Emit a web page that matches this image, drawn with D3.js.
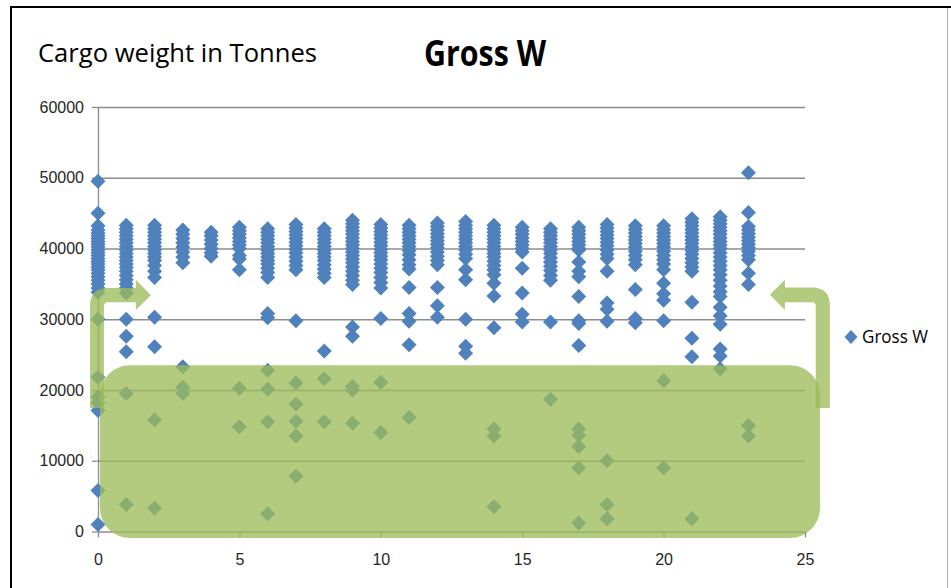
<!DOCTYPE html>
<html>
<head>
<meta charset="utf-8">
<script src="https://cdn.jsdelivr.net/npm/d3@7"></script>
<style>
  html, body { margin: 0; padding: 0; background: #fff; }
  svg { display: block; }
</style>
</head>
<body>
<svg id="chart" width="951" height="588"></svg>
<script>
// x = hour (0..23), one list of Gross W readings per hour
const hours = d3.range(0, 24);
const grossW = [
  [49500, 45000, 43200, 42600, 42200, 41800, 41400, 41000, 40600, 40200, 39800, 39400, 39000, 38600, 38200, 37800, 37400, 37000, 36500, 36000, 35500, 35000, 34400, 33800, 30000, 21800, 19000, 18200, 17100, 5800, 1000],
  [43300, 42800, 42300, 41800, 41300, 40800, 40300, 39800, 39300, 38800, 38300, 37800, 37300, 36800, 36200, 35600, 35000, 34400, 33700, 30000, 27600, 25400, 19500, 3800],
  [43300, 42800, 42300, 41800, 41300, 40800, 40300, 39800, 39300, 38800, 38300, 37600, 36800, 35900, 30300, 26100, 15800, 3300],
  [42600, 42000, 41400, 40800, 40200, 39500, 38800, 38000, 23300, 20400, 19500],
  [42300, 41800, 41200, 40600, 40000, 39400, 38900],
  [43000, 42500, 42000, 41500, 41000, 40500, 40000, 39000, 38500, 37000, 20200, 14800],
  [42800, 42300, 41800, 41300, 40800, 40300, 39800, 39300, 38800, 38300, 37800, 37200, 36600, 35900, 30800, 30200, 22800, 20100, 15500, 2500],
  [43400, 42900, 42400, 41900, 41400, 40900, 40400, 39900, 39400, 38800, 38200, 37600, 37000, 29800, 21000, 18000, 15600, 13500, 7800],
  [42800, 42300, 41800, 41300, 40800, 40300, 39800, 39300, 38800, 38300, 37700, 37100, 36500, 35900, 25500, 21600, 15500],
  [44000, 43500, 43000, 42500, 42000, 41500, 41000, 40500, 40000, 39500, 39000, 38500, 38000, 37400, 36800, 36200, 35500, 34900, 28900, 27600, 20500, 20000, 15300],
  [43400, 42900, 42400, 41900, 41400, 40900, 40400, 39900, 39400, 38900, 38400, 37800, 37200, 36600, 35900, 35200, 34400, 30100, 21100, 14000],
  [43300, 42800, 42300, 41800, 41300, 40800, 40300, 39700, 39100, 38400, 37700, 37100, 34500, 30800, 29700, 26400, 16100],
  [43600, 43100, 42600, 42100, 41600, 41100, 40600, 40100, 39500, 38900, 38300, 37700, 34500, 31900, 30300],
  [43800, 43300, 42800, 42300, 41800, 41300, 40800, 40300, 39800, 39200, 38600, 37000, 35600, 30000, 26200, 25200],
  [43300, 42800, 42300, 41800, 41300, 40800, 40300, 39800, 39300, 38800, 38200, 37600, 37000, 36300, 35100, 33300, 28800, 14500, 13500, 3500],
  [43000, 42500, 42000, 41500, 41000, 40500, 40000, 39500, 37200, 33700, 30700, 29600],
  [42800, 42300, 41800, 41300, 40800, 40300, 39800, 39300, 38700, 38100, 37500, 36900, 36200, 35500, 29600, 18700],
  [43000, 42500, 42000, 41500, 41000, 40500, 40000, 39800, 38100, 36800, 36000, 33200, 29800, 29400, 26300, 14500, 13600, 12000, 9000, 1200],
  [43400, 42900, 42400, 41900, 41400, 40900, 40400, 39800, 39200, 38600, 36800, 32300, 31400, 29700, 10000, 3800, 1800],
  [43200, 42700, 42200, 41700, 41200, 40700, 40200, 39600, 39000, 38400, 37700, 34200, 30100, 29500],
  [43200, 42700, 42200, 41700, 41200, 40700, 40200, 39600, 39000, 38400, 37800, 37000, 35100, 33600, 32700, 29800, 21300, 9000],
  [44200, 43700, 43200, 42700, 42200, 41700, 41200, 40700, 40200, 39700, 39200, 38600, 38000, 37400, 36800, 32400, 27300, 24700, 1800],
  [44500, 44000, 43500, 43000, 42500, 42000, 41500, 41000, 40500, 40000, 39400, 38800, 38200, 37600, 37000, 36300, 35500, 34700, 33900, 33200, 31700, 30500, 29300, 25800, 24800, 23000],
  [50700, 45100, 43100, 42600, 42100, 41600, 41100, 40600, 40100, 39600, 39000, 38400, 36500, 34900, 15000, 13500]
];
const xTicks = [0, 5, 10, 15, 20, 25];
const yTicks = [0, 10000, 20000, 30000, 40000, 50000, 60000];
const seriesName = "Gross W";
const chartTitle = "Gross W";
const sideNote = "Cargo weight in Tonnes";

const points = hours.flatMap((h, i) => grossW[i].map(v => ({ h, v })));

const svg = d3.select("#chart");
const m = { left: 98, right: 146, top: 107, bottom: 56.5 };
const W = 951, H = 588;

const x = d3.scaleLinear().domain([0, 25]).range([m.left, W - m.right]);
const y = d3.scaleLinear().domain([0, 60000]).range([H - m.bottom, m.top]);

const GRID = "#8c8c8c";
const BLUE = "#4f81bd";
const GREEN = "#9bbb59";
const TICK_FONT = "Liberation Sans, Arial, sans-serif";

// frame
svg.append("line").attr("x1", 11).attr("x2", 11).attr("y1", 7).attr("y2", H)
  .attr("stroke", "#000").attr("stroke-width", 2);
svg.append("line").attr("x1", 10).attr("x2", W).attr("y1", 7).attr("y2", 7)
  .attr("stroke", "#000").attr("stroke-width", 2);
svg.append("line").attr("x1", 947.5).attr("x2", 947.5).attr("y1", 8).attr("y2", H)
  .attr("stroke", "#b0b0b0").attr("stroke-width", 1);

// titles
svg.append("text").attr("x", 38).attr("y", 62)
  .attr("font-family", "Open Sans, Noto Sans, sans-serif").attr("font-size", 25)
  .attr("textLength", 279).attr("lengthAdjust", "spacingAndGlyphs")
  .attr("fill", "#000").text(sideNote);
svg.append("text").attr("x", 424).attr("y", 66)
  .attr("font-family", "Open Sans, Noto Sans, sans-serif").attr("font-size", 36)
  .attr("font-weight", "bold")
  .attr("textLength", 122).attr("lengthAdjust", "spacingAndGlyphs")
  .attr("fill", "#000").text(chartTitle);

// gridlines
svg.append("g")
  .attr("transform", `translate(${m.left},0)`)
  .call(d3.axisLeft(y).tickValues(yTicks.filter(t => t > 0)).tickSize(-(x(25) - x(0))).tickFormat(""))
  .call(g => g.select(".domain").remove())
  .call(g => g.selectAll("line").attr("stroke", GRID).attr("stroke-width", 1.3));

// y axis
svg.append("g")
  .attr("transform", `translate(${m.left},0)`)
  .call(d3.axisLeft(y).tickValues(yTicks).tickFormat(d3.format("d"))
    .tickSize(6).tickPadding(8).tickSizeOuter(0))
  .call(g => g.select(".domain").attr("stroke", GRID).attr("stroke-width", 1.3))
  .call(g => g.selectAll("line").attr("stroke", GRID).attr("stroke-width", 1.3))
  .call(g => g.selectAll("text").attr("fill", "#262626").attr("font-size", 16)
    .attr("font-family", TICK_FONT));

// x axis
svg.append("g")
  .attr("transform", `translate(0,${y(0)})`)
  .call(d3.axisBottom(x).tickValues(xTicks).tickFormat(d3.format("d"))
    .tickSize(6).tickPadding(16).tickSizeOuter(0))
  .call(g => g.select(".domain").attr("stroke", GRID).attr("stroke-width", 1.3))
  .call(g => g.selectAll("line").attr("stroke", GRID).attr("stroke-width", 1.3))
  .call(g => g.selectAll("text").attr("fill", "#262626").attr("font-size", 16)
    .attr("font-family", TICK_FONT));

// points
const diamond = "M0,-7.5L7.5,0L0,7.5L-7.5,0Z";
svg.append("g").selectAll("path")
  .data(points).join("path")
  .attr("d", diamond)
  .attr("transform", d => `translate(${x(d.h)},${y(d.v)})`)
  .attr("fill", BLUE);

// legend
const lg = svg.append("g").attr("transform", "translate(851,337)");
lg.append("path").attr("d", "M0,-7L6.5,0L0,7L-6.5,0Z").attr("fill", BLUE);
lg.append("text").attr("x", 11).attr("y", 6)
  .attr("font-family", "Open Sans, Noto Sans, sans-serif").attr("font-size", 18)
  .attr("textLength", 66).attr("lengthAdjust", "spacingAndGlyphs")
  .attr("fill", "#000").text(seriesName);

// green highlight box and arrows (semi-transparent overlay)
const ov = svg.append("g").attr("fill", GREEN).attr("fill-opacity", 0.77);
const bx0 = x(0.07), bx1 = x(25.53), by0 = y(23500), by1 = y(-920);
ov.append("rect")
  .attr("x", bx0).attr("y", by0)
  .attr("width", bx1 - bx0).attr("height", by1 - by0)
  .attr("rx", 30).attr("ry", 30);

function bentArrow(stemX0, stemX1, bottom, top, shaftBottom, headBase, tip, headTop, headBottom, dir) {
  // dir = 1 points right, -1 points left
  const r = 18, ri = 4;
  const outer = dir > 0 ? stemX0 : stemX1;
  const inner = dir > 0 ? stemX1 : stemX0;
  const tipY = (top + shaftBottom) / 2;
  const p = d3.path();
  p.moveTo(outer, bottom);
  p.lineTo(outer, top + r);
  p.quadraticCurveTo(outer, top, outer + dir * r, top);
  p.lineTo(headBase, top);
  p.lineTo(headBase, headTop);
  p.lineTo(tip, tipY);
  p.lineTo(headBase, headBottom);
  p.lineTo(headBase, shaftBottom);
  p.lineTo(inner + dir * ri, shaftBottom);
  p.quadraticCurveTo(inner, shaftBottom, inner, shaftBottom + ri);
  p.lineTo(inner, bottom);
  p.closePath();
  return p.toString();
}

ov.append("path").attr("d", bentArrow(
  x(-0.28), x(0.21), y(17450), y(34400), y(32400), x(1.34), x(1.87), y(35600), y(31300), 1));
ov.append("path").attr("d", bentArrow(
  x(25.38), x(25.88), y(17450), y(34500), y(32400), x(24.29), x(23.76), y(35600), y(31300), -1));
</script>
</body>
</html>
